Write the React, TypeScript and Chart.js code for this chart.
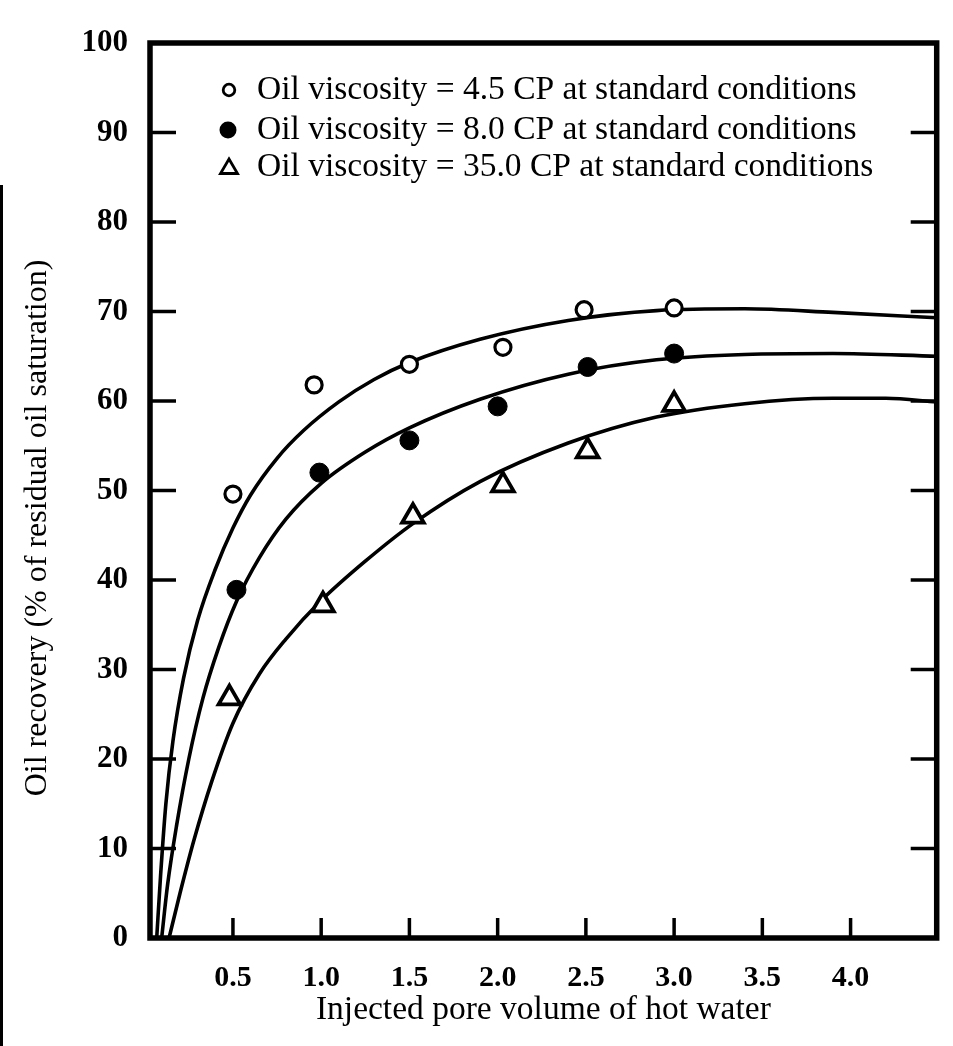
import React, { useEffect, useRef } from "react";
import { Chart, registerables } from "chart.js";

Chart.register(...registerables);

// ---- data ----
const xTickValues = [0.5, 1.0, 1.5, 2.0, 2.5, 3.0, 3.5, 4.0];
const yTickValues = [0, 10, 20, 30, 40, 50, 60, 70, 80, 90, 100];
const xMin = 0.03;
const xMax = 4.488;
const yMin = 0;
const yMax = 100;

const seriesLabels = [
  "Oil viscosity = 4.5 CP at standard conditions",
  "Oil viscosity = 8.0 CP at standard conditions",
  "Oil viscosity = 35.0 CP at standard conditions",
];
const xAxisTitle = "Injected pore volume of hot water";
const yAxisTitle = "Oil recovery (% of residual oil saturation)";

// measured points
const openCircleX = [0.5, 0.96, 1.5, 2.03, 2.49, 3.0];
const openCircleY = [49.6, 61.8, 64.1, 66.0, 70.2, 70.4];
const filledCircleX = [0.52, 0.99, 1.5, 2.0, 2.51, 3.0];
const filledCircleY = [38.9, 52.0, 55.6, 59.4, 63.8, 65.3];
const triangleX = [0.48, 1.01, 1.52, 2.03, 2.51, 3.0];
const triangleY = [26.8, 37.2, 47.1, 50.6, 54.4, 59.6];

// drawn curves
const curve45X = [0.068, 0.09, 0.12, 0.16, 0.22, 0.3, 0.4, 0.5, 0.6, 0.75, 0.9, 1.1, 1.3, 1.5, 1.9, 2.4, 2.9, 3.4, 3.9, 4.488];
const curve45Y = [0, 7, 15, 22, 29, 35.5, 41.2, 45.8, 49.5, 53.6, 56.7, 59.9, 62.4, 64.3, 66.9, 69.0, 70.1, 70.3, 69.9, 69.3];
const curve80X = [0.096, 0.13, 0.18, 0.25, 0.33, 0.42, 0.52, 0.65, 0.8, 1.0, 1.25, 1.5, 1.9, 2.4, 2.9, 3.4, 3.9, 4.488];
const curve80Y = [0, 6, 12.5, 20, 26.8, 32.5, 37.6, 42.5, 46.8, 50.8, 54.3, 57.0, 60.2, 63.0, 64.6, 65.2, 65.3, 65.0];
const curve350X = [0.138, 0.2, 0.28, 0.38, 0.5, 0.65, 0.8, 1.0, 1.25, 1.52, 1.9, 2.4, 2.9, 3.4, 3.9, 4.2, 4.488];
const curve350Y = [0, 5, 11, 17.5, 24, 29.5, 33.4, 37.7, 42.1, 46.3, 51.0, 55.3, 58.2, 59.7, 60.3, 60.3, 59.9];

const SERIF = "'Liberation Serif', 'Times New Roman', serif";

const pair = (xs: number[], ys: number[]) => xs.map((x, i) => ({ x, y: ys[i] }));

const decorPlugin = {
  id: "decor",
  afterDatasetsDraw(chart: any) {
    const { ctx, chartArea: a, scales } = chart;
    const xs = scales.x;
    const ys = scales.y;
    ctx.save();
    ctx.strokeStyle = "#000";
    ctx.fillStyle = "#000";
    ctx.lineCap = "butt";

    const seg = (x1: number, y1: number, x2: number, y2: number) => {
      ctx.beginPath();
      ctx.moveTo(x1, y1);
      ctx.lineTo(x2, y2);
      ctx.stroke();
    };

    // inward tick marks
    ctx.lineWidth = 3.5;
    yTickValues.forEach((v) => {
      if (v === yMin || v === yMax) return;
      const py = ys.getPixelForValue(v);
      seg(a.left, py, a.left + 26, py);
      seg(a.right - 26, py, a.right, py);
    });
    xTickValues.forEach((v) => {
      const px = xs.getPixelForValue(v);
      seg(px, a.bottom, px, a.bottom - 20);
    });

    // frame
    ctx.lineWidth = 5.5;
    ctx.strokeRect(a.left, a.top, a.right - a.left, a.bottom - a.top);

    // legend
    const lx = 229;
    const tx = 257;
    const rows = [90, 130, 167];
    ctx.font = `33.5px ${SERIF}`;
    ctx.textAlign = "left";
    ctx.textBaseline = "middle";
    chart.data.datasets.slice(0, 3).forEach((ds: any, i: number) => {
      const cy = rows[i];
      if (i === 0) {
        ctx.lineWidth = 2.8;
        ctx.beginPath();
        ctx.arc(lx, cy, 5.8, 0, Math.PI * 2);
        ctx.stroke();
      } else if (i === 1) {
        ctx.beginPath();
        ctx.arc(lx - 1, cy, 8.5, 0, Math.PI * 2);
        ctx.fill();
      } else {
        ctx.lineWidth = 2.8;
        ctx.beginPath();
        ctx.moveTo(lx, cy - 8);
        ctx.lineTo(lx + 8.5, cy + 6.5);
        ctx.lineTo(lx - 8.5, cy + 6.5);
        ctx.closePath();
        ctx.stroke();
      }
      ctx.fillText(ds.label, tx, cy);
    });

    // y-axis title
    ctx.translate(38, 528);
    ctx.rotate(-Math.PI / 2);
    ctx.font = `32px ${SERIF}`;
    ctx.textAlign = "center";
    ctx.textBaseline = "middle";
    ctx.fillText(yAxisTitle, 0, 0);
    ctx.restore();
  },
};

export default function App() {
  const canvasRef = useRef<HTMLCanvasElement>(null);

  useEffect(() => {
    const canvas = canvasRef.current;
    if (!canvas) return;
    const curveStyle = {
      type: "line" as const,
      borderColor: "#000",
      borderWidth: 3.6,
      pointRadius: 0,
      fill: false,
      cubicInterpolationMode: "monotone" as const,
      order: 1,
    };
    const chart = new Chart(canvas, {
      type: "line",
      data: {
        datasets: [
          {
            label: seriesLabels[0],
            data: pair(openCircleX, openCircleY),
            showLine: false,
            pointStyle: "circle",
            pointRadius: 8,
            pointBorderWidth: 3.2,
            pointBorderColor: "#000",
            pointBackgroundColor: "#fff",
            order: 0,
          },
          {
            label: seriesLabels[1],
            data: pair(filledCircleX, filledCircleY),
            showLine: false,
            pointStyle: "circle",
            pointRadius: 9.5,
            pointBorderWidth: 1,
            pointBorderColor: "#000",
            pointBackgroundColor: "#000",
            order: 0,
          },
          {
            label: seriesLabels[2],
            data: pair(triangleX, triangleY),
            showLine: false,
            pointStyle: "triangle",
            pointRadius: 12.5,
            pointBorderWidth: 3.8,
            pointBorderColor: "#000",
            pointBackgroundColor: "#fff",
            order: 0,
          },
          { ...curveStyle, label: "fit 4.5", data: pair(curve45X, curve45Y) },
          { ...curveStyle, label: "fit 8.0", data: pair(curve80X, curve80Y) },
          { ...curveStyle, label: "fit 35.0", data: pair(curve350X, curve350Y) },
        ],
      },
      options: {
        animation: false,
        responsive: false,
        devicePixelRatio: 1,
        layout: { padding: { top: 43, right: 6, left: 0, bottom: 0 } },
        plugins: {
          legend: { display: false },
          tooltip: { enabled: false },
        },
        scales: {
          x: {
            type: "linear",
            min: xMin,
            max: xMax,
            afterBuildTicks: (s: any) => {
              s.ticks = xTickValues.map((v) => ({ value: v }));
            },
            afterFit: (s: any) => {
              s.height = 108;
            },
            grid: { display: false, drawTicks: false },
            border: { display: false },
            ticks: {
              padding: 22,
              color: "#000",
              maxRotation: 0,
              autoSkip: false,
              font: { family: SERIF, size: 30, weight: "bold" },
              callback: (v: any) => Number(v).toFixed(1),
            },
            title: {
              display: true,
              text: xAxisTitle,
              color: "#000",
              font: { family: SERIF, size: 33.5 },
              padding: { top: 0, bottom: 16 },
            },
          },
          y: {
            type: "linear",
            min: yMin,
            max: yMax,
            afterBuildTicks: (s: any) => {
              s.ticks = yTickValues.map((v) => ({ value: v }));
            },
            afterFit: (s: any) => {
              s.width = 150;
            },
            grid: { display: false, drawTicks: false },
            border: { display: false },
            ticks: {
              padding: 22,
              color: "#000",
              autoSkip: false,
              font: { family: SERIF, size: 31, weight: "bold" },
              callback: (v: any) => String(v),
            },
          },
        },
      },
      plugins: [decorPlugin],
    });
    return () => chart.destroy();
  }, []);

  return (
    <div style={{ position: "absolute", left: 0, top: 0, width: 953, height: 1046, background: "#fff" }}>
      <div style={{ position: "absolute", left: 0, top: 185, width: 3, height: 861, background: "#000" }} />
      <canvas ref={canvasRef} width={953} height={1046} style={{ display: "block", width: 953, height: 1046 }} />
    </div>
  );
}
